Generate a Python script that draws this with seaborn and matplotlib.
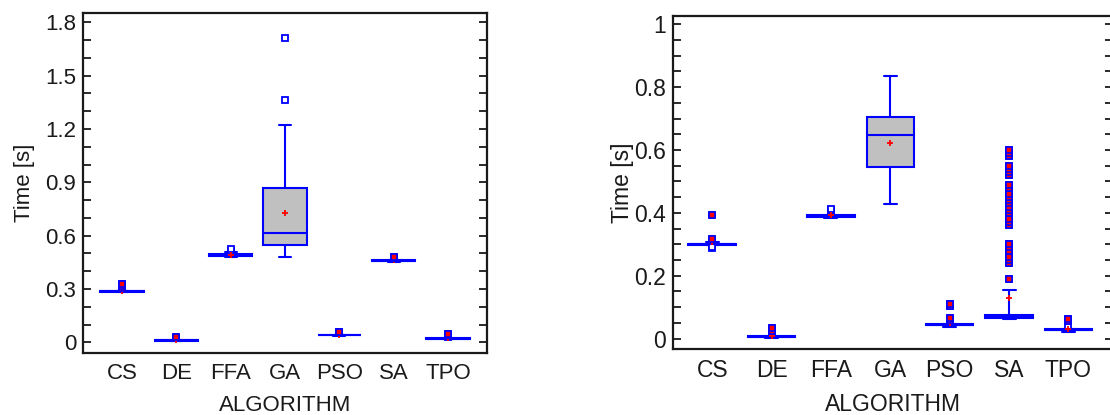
import numpy as np
import pandas as pd
import matplotlib
matplotlib.use('Agg')
import matplotlib.pyplot as plt
from matplotlib.ticker import MultipleLocator, FormatStrFormatter
import seaborn as sns

ALGORITHMS = ['CS', 'DE', 'FFA', 'GA', 'PSO', 'SA', 'TPO']

# ---- left panel: run times [s] per algorithm
CS_L = [0.281, 0.283, 0.284, 0.284, 0.285, 0.285, 0.285, 0.286, 0.286, 0.287,
        0.287, 0.288, 0.288, 0.290, 0.305, 0.318, 0.330]
DE_L = [0.008, 0.009, 0.010, 0.010, 0.011, 0.011, 0.011, 0.012, 0.012, 0.013,
        0.014, 0.022, 0.030]
FFA_L = [0.482, 0.484, 0.485, 0.486, 0.486, 0.487, 0.487, 0.488, 0.488, 0.489,
         0.490, 0.491, 0.492, 0.498, 0.502, 0.508, 0.515, 0.525]
GA_L = [0.482, 0.49, 0.50, 0.51, 0.52, 0.535, 0.55, 0.555, 0.56, 0.57, 0.58,
        0.60, 0.615, 0.62, 0.63, 0.65, 0.66, 0.72, 0.87, 0.875, 0.88, 0.885,
        1.222, 1.36, 1.71]
PSO_L = [0.036, 0.038, 0.039, 0.040, 0.040, 0.041, 0.041, 0.042, 0.042, 0.043,
         0.044, 0.050, 0.056, 0.060]
SA_L = [0.452, 0.454, 0.455, 0.456, 0.457, 0.457, 0.458, 0.458, 0.459, 0.460,
        0.461, 0.468, 0.475, 0.480]
TPO_L = [0.016, 0.017, 0.018, 0.019, 0.019, 0.020, 0.020, 0.021, 0.021, 0.022,
         0.023, 0.030, 0.040, 0.048]

# ---- right panel
CS_R = [0.289, 0.292, 0.297, 0.298, 0.299, 0.299, 0.300, 0.300, 0.301, 0.301,
        0.302, 0.303, 0.306, 0.316, 0.393]
DE_R = [0.002, 0.003, 0.004, 0.004, 0.005, 0.005, 0.005, 0.006, 0.006, 0.007,
        0.008, 0.016, 0.025, 0.034]
FFA_R = [0.383, 0.385, 0.386, 0.386, 0.387, 0.388, 0.389, 0.390, 0.391, 0.392,
         0.393, 0.393, 0.394, 0.405, 0.410, 0.412]
GA_R = [0.428, 0.44, 0.455, 0.47, 0.49, 0.51, 0.546, 0.56, 0.58, 0.60, 0.62,
        0.635, 0.647, 0.655, 0.665, 0.675, 0.685, 0.695, 0.704, 0.71, 0.72,
        0.73, 0.75, 0.78, 0.834]
PSO_R = [0.038, 0.040, 0.041, 0.041, 0.042, 0.042, 0.042, 0.042, 0.043, 0.043,
         0.043, 0.043, 0.044, 0.044, 0.045, 0.046, 0.052, 0.058, 0.065, 0.105,
         0.110]
# SA: most runs sit in a tight band, given as value / count pairs
SA_R_BULK = [0.063, 0.065, 0.070, 0.076, 0.085, 0.095, 0.105, 0.156]
SA_R_COUNTS = [5, 40, 40, 40, 1, 1, 1, 1]
SA_R_OUT = [0.19, 0.24, 0.25, 0.26, 0.28, 0.29, 0.30, 0.36, 0.37, 0.38, 0.40,
            0.41, 0.42, 0.43, 0.44, 0.45, 0.46, 0.48, 0.49, 0.52, 0.53, 0.54,
            0.55, 0.58, 0.59, 0.60]
TPO_R = [0.022, 0.024, 0.025, 0.026, 0.026, 0.027, 0.027, 0.028, 0.028, 0.029,
         0.030, 0.040, 0.055, 0.062]

BLUE = '#0000ff'
BOX_FILL = '#c0c0c0'
INK = '#1a1a1a'


def make_frame(groups):
    rows = []
    for alg, vals in zip(ALGORITHMS, groups):
        rows += [(alg, v) for v in vals]
    return pd.DataFrame(rows, columns=['ALGORITHM', 'Time'])


def draw_panel(ax, df, whis, fs, ylabelpad):
    far = []
    for alg in ALGORITHMS:
        sub = df[df['ALGORITHM'] == alg]
        w = whis.get(alg, 1.5)
        sns.boxplot(data=sub, x='ALGORITHM', y='Time', order=ALGORITHMS, ax=ax,
                    whis=w, width=0.8, color=BOX_FILL, saturation=1,
                    linecolor=BLUE, linewidth=1.5, capwidths=0.22,
                    showmeans=True,
                    meanprops=dict(marker='+', markeredgecolor='red',
                                   markersize=5, markeredgewidth=1.3),
                    flierprops=dict(marker='s', markersize=4.5,
                                    markerfacecolor='white',
                                    markeredgecolor=BLUE, markeredgewidth=1.3))
        # far outside points (beyond 3 IQR) get the red fill
        v = sub['Time'].to_numpy()
        q1, q3 = np.percentile(v, [25, 75])
        iqr = q3 - q1
        hi = v[v <= q3 + w * iqr].max()
        lo = v[v >= q1 - w * iqr].min()
        mask = ((v > hi) & (v > q3 + 3 * iqr)) | ((v < lo) & (v < q1 - 3 * iqr))
        far += [(alg, x) for x in v[mask]]
    far_df = pd.DataFrame(far, columns=['ALGORITHM', 'Time'])
    sns.stripplot(data=far_df, x='ALGORITHM', y='Time', order=ALGORITHMS, ax=ax,
                  jitter=False, marker='s', size=4.5, color='red',
                  edgecolor=BLUE, linewidth=1.2, zorder=5, legend=False)

    ax.set_xlabel('ALGORITHM', fontsize=fs, labelpad=8)
    ax.set_ylabel('Time [s]', fontsize=fs, labelpad=ylabelpad)
    ax.tick_params(axis='x', length=0, labelsize=fs, pad=7)
    ax.tick_params(axis='y', which='both', direction='in', left=True,
                   right=True, length=6, width=1.3, labelsize=fs, pad=5)
    for s in ax.spines.values():
        s.set_visible(True)
        s.set_linewidth(1.6)
        s.set_color(INK)
    ax.set_facecolor('white')


sns.set_style('white')
plt.rcParams['font.family'] = ['Liberation Sans', 'DejaVu Sans']
plt.rcParams['text.color'] = INK
plt.rcParams['axes.labelcolor'] = INK
plt.rcParams['xtick.color'] = INK
plt.rcParams['ytick.color'] = INK

fig = plt.figure(figsize=(11.1, 4.15), dpi=100)
W, H = 1110, 415
ax1 = fig.add_axes([83 / W, 1 - 353 / H, (487 - 83) / W, (353 - 13) / H])
ax2 = fig.add_axes([673 / W, 1 - 349 / H, (1113 - 673) / W, (349 - 16) / H])

left_df = make_frame([CS_L, DE_L, FFA_L, GA_L, PSO_L, SA_L, TPO_L])
sa_r = list(np.repeat(SA_R_BULK, SA_R_COUNTS)) + SA_R_OUT
right_df = make_frame([CS_R, DE_R, FFA_R, GA_R, PSO_R, sa_r, TPO_R])

draw_panel(ax1, left_df, {}, 16, 7)
draw_panel(ax2, right_df, {'SA': 7.5}, 16.5, 0)

for ax, ylim, major, minor in [(ax1, (-0.06, 1.852), 0.3, 0.1),
                               (ax2, (-0.033, 1.026), 0.2, 0.05)]:
    ax.set_ylim(*ylim)
    ax.yaxis.set_major_locator(MultipleLocator(major))
    ax.yaxis.set_minor_locator(MultipleLocator(minor))
    ax.yaxis.set_major_formatter(FormatStrFormatter('%g'))
ax1.set_xlim(-0.72, 6.72)
ax2.set_xlim(-0.66, 6.75)

fig.savefig('out.png', dpi=100, facecolor='white')
